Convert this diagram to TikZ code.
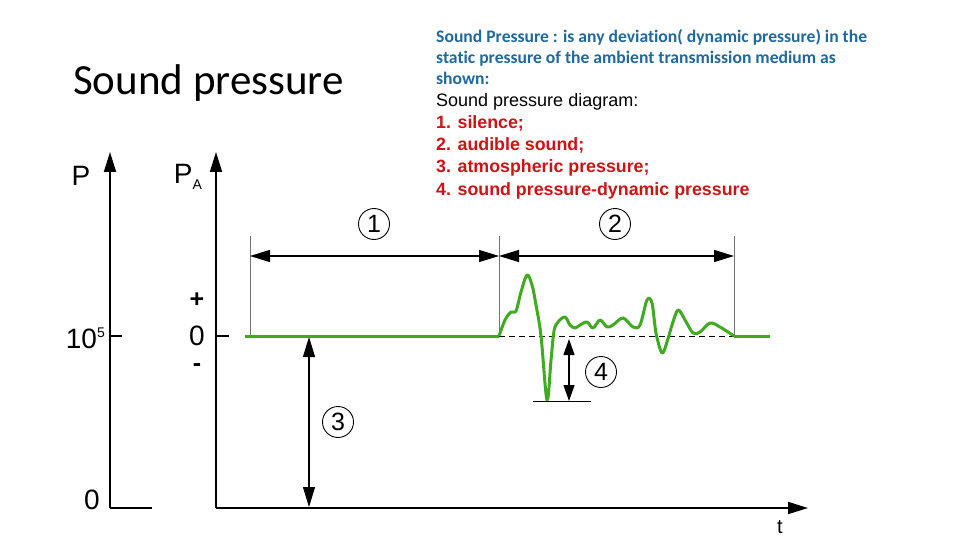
\documentclass[tikz,border=0pt]{standalone}
\usepackage{fontspec}
\setmainfont{Liberation Sans}
\newfontfamily\calibri[Ligatures=NoCommon]{Carlito}
\usetikzlibrary{arrows.meta}
\definecolor{wavegreen}{RGB}{64,170,32}
\definecolor{noteblue}{RGB}{31,105,160}
\definecolor{notered}{RGB}{205,20,20}
\tikzset{
  axisline/.style={line width=1.8pt,-{Triangle[length=20pt,width=12pt]}},
  dimline/.style={line width=1.2pt,{Triangle[length=20pt,width=12pt]}-{Triangle[length=20pt,width=12pt]}},
  guide/.style={black!55,line width=0.8pt},
  numcirc/.style={draw,circle,line width=0.9pt,minimum size=31pt,inner sep=0pt,font=\fontsize{25}{25}\selectfont},
  axlabel/.style={inner sep=0pt,font=\fontsize{28}{28}\selectfont},
  note/.style={anchor=base west,inner sep=0pt},
  bluenote/.style={note,text=noteblue,font=\calibri\bfseries\fontsize{17.6}{17.6}\selectfont},
  rednote/.style={note,text=notered,font=\bfseries\fontsize{17.8}{17.8}\selectfont},
}
\begin{document}
\begin{tikzpicture}[x=1pt,y=-1pt]
  \useasboundingbox[fill=white] (0,0) rectangle (960,540);
  % title and notes
  \node[note,font=\calibri\fontsize{43}{43}\selectfont] (title) at (73,95) {Sound pressure};
  \node[bluenote] (blue1) at (436,43) {Sound Pressure : is any deviation( dynamic pressure) in the};
  \node[bluenote] (blue2) at (436,64) {static pressure of the ambient transmission medium as};
  \node[bluenote] (blue3) at (436,85) {shown:};
  \node[note,font=\fontsize{18}{18}\selectfont] (head) at (436,107) {Sound pressure diagram:};
  \node[rednote] (item1) at (436,129) {1. silence;};
  \node[rednote] (item2) at (436,151) {2. audible sound;};
  \node[rednote] (item3) at (436,173) {3. atmospheric pressure;};
  \node[rednote] (item4) at (436,195) {4. sound pressure-dynamic pressure};
  % axes
  \coordinate (p0) at (110,508);
  \coordinate (ptop) at (110,152);
  \coordinate (a0) at (216,508);
  \coordinate (atop) at (216,152);
  \coordinate (tend) at (808,508);
  \draw[axisline] (p0) -- (ptop);
  \draw[line width=1.8pt] (p0) -- (152,508);
  \draw[axisline] (a0) -- (atop);
  \draw[axisline] (a0) -- (tend);
  \draw[line width=1.5pt] (110,336) -- (122,336);
  \draw[line width=1.5pt] (216,336) -- (229,336);
  \node[axlabel] (plab) at (81,176) {P};
  \node[axlabel] (palab) at (188,177) {P\raisebox{-6pt}{\fontsize{14}{14}\selectfont A}};
  \node[axlabel,anchor=east] (pmid) at (105,338) {10\raisebox{11pt}{\fontsize{14}{14}\selectfont 5}};
  \node[axlabel] (pzero) at (92,500) {0};
  \node[axlabel] (azero) at (197,336) {0};
  \node[axlabel,font=\bfseries\fontsize{25}{25}\selectfont] (plus) at (197,300) {+};
  \node[axlabel,font=\bfseries\fontsize{25}{25}\selectfont] (minus) at (197,368) {-};
  \node[axlabel,anchor=north,font=\fontsize{20}{20}\selectfont] (tlab) at (780,520) {t};
  % guides
  \coordinate (g1) at (250,236);
  \coordinate (g2) at (499,236);
  \coordinate (g3) at (734,236);
  \draw[guide] (g1) -- (250,336);
  \draw[guide] (g2) -- (499,336);
  \draw[guide] (g3) -- (734,336);
  \draw[dash pattern=on 6pt off 4pt,line width=1pt] (499,336) -- (734,336);
  % signal
  \draw[wavegreen,line width=3pt] (245,336) -- (499,336);
  \draw[wavegreen,line width=3pt,line join=round] plot[smooth,tension=0.55] coordinates {
    (499,336) (505,320) (511,312) (516,311) (521,292) (527,275) (532,285) (536,305)
    (541,336) (547,400) (551,360) (554,331) (558,322) (565,317) (570,325) (575,328)
    (580,325) (587,322) (593,328) (600,320) (607,327) (613,325) (623,318) (633,327)
    (640,325) (647,300) (652,303) (656,333) (662,353) (667,342) (672,325) (678,310)
    (685,320) (693,333) (700,332) (710,323) (720,327) (734,336)};
  \draw[wavegreen,line width=3pt] (734,336) -- (770,336);
  % dimensions
  \coordinate (s1l) at (250,256);
  \coordinate (s1r) at (499,256);
  \coordinate (s2l) at (499,256);
  \coordinate (s2r) at (734,256);
  \draw[dimline] (s1l) -- (s1r);
  \draw[dimline] (s2l) -- (s2r);
  \coordinate (s3t) at (309,337);
  \coordinate (s3b) at (309,507);
  \draw[dimline] (s3t) -- (s3b);
  \coordinate (s4t) at (569,339);
  \coordinate (s4b) at (569,401);
  \draw[line width=1.2pt,{Triangle[length=16pt,width=11pt]}-{Triangle[length=16pt,width=11pt]}] (s4t) -- (s4b);
  \draw[line width=1pt] (533,401) -- (591,401);
  \node[numcirc] (n1) at (374,224) {1};
  \node[numcirc] (n2) at (615,224) {2};
  \node[numcirc] (n3) at (338,422) {3};
  \node[numcirc] (n4) at (601,372) {4};
\end{tikzpicture}
\end{document}
